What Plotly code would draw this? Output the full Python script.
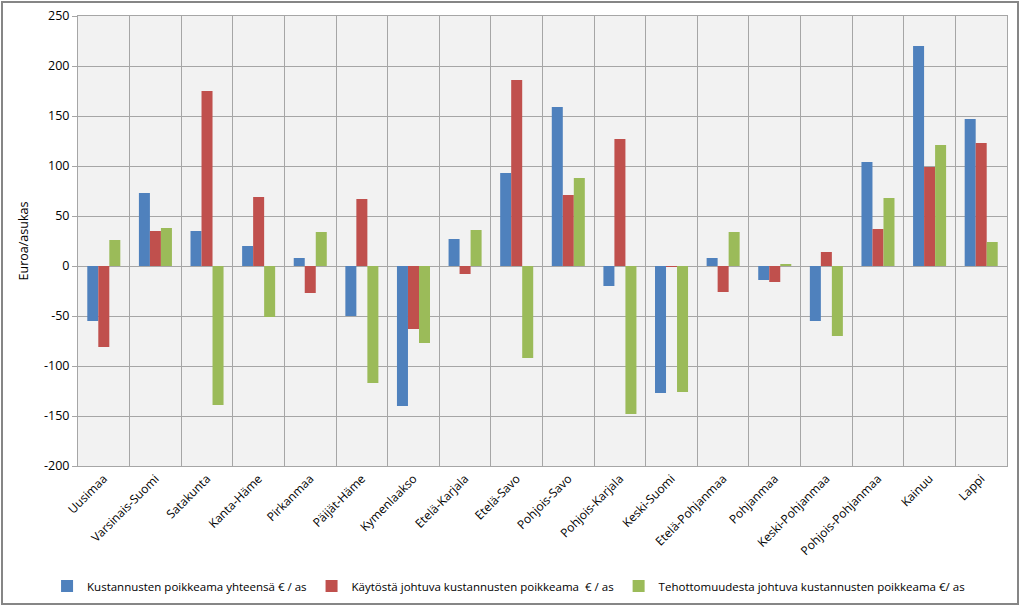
import plotly.graph_objects as go

regions = ["Uusimaa", "Varsinais-Suomi", "Satakunta", "Kanta-Häme", "Pirkanmaa", "Päijät-Häme",
           "Kymenlaakso", "Etelä-Karjala", "Etelä-Savo", "Pohjois-Savo", "Pohjois-Karjala",
           "Keski-Suomi", "Etelä-Pohjanmaa", "Pohjanmaa", "Keski-Pohjanmaa", "Pohjois-Pohjanmaa",
           "Kainuu", "Lappi"]

total = [-55, 73, 35, 20, 8, -50, -140, 27, 93, 159, -20, -127, 8, -14, -55, 104, 220, 147]
usage = [-81, 35, 175, 69, -27, 67, -63, -8, 186, 71, 127, -1, -26, -16, 14, 37, 99, 123]
ineff = [26, 38, -139, -51, 34, -117, -77, 36, -92, 88, -148, -126, 34, 2, -70, 68, 121, 24]

series_names = ["Kustannusten poikkeama yhteensä € / as",
                "Käytöstä johtuva kustannusten poikkeama  € / as",
                "Tehottomuudesta johtuva kustannusten poikkeama €/ as"]
colors = ["#4F81BD", "#C0504D", "#9BBB59"]

y_ticks = list(range(-200, 251, 50))
y_ticktext = [str(v) for v in y_ticks]

xpos = list(range(len(regions)))

fig = go.Figure()
for name, vals, col in zip(series_names, [total, usage, ineff], colors):
    fig.add_trace(go.Bar(x=xpos, y=vals, name=name, marker=dict(color=col, line=dict(width=0))))

fig.update_layout(
    width=1023, height=608,
    margin=dict(l=78, r=16, t=16, b=142, autoexpand=False),
    paper_bgcolor="white",
    plot_bgcolor="#F2F2F2",
    barmode="group",
    bargap=0.36,
    bargroupgap=0,
    font=dict(family="Open Sans, Calibri, sans-serif", size=11, color="#000000"),
    legend=dict(orientation="h", x=0.046, xanchor="left", xref="container",
                y=(608 - 586) / 608, yanchor="middle", yref="container",
                font=dict(size=11.5), traceorder="normal",
                bgcolor="rgba(0,0,0,0)"),
    showlegend=True,
)

fig.update_xaxes(
    range=[-0.5, len(regions) - 0.5],
    tickmode="array", tickvals=xpos, ticktext=regions, tickangle=-45,
    showgrid=False,
    minor=dict(tickmode="linear", tick0=0.5, dtick=1, showgrid=True, gridcolor="#A6A6A6", gridwidth=1),
    showline=True, linecolor="#A6A6A6", linewidth=1, mirror=True,
    ticks="", tickfont=dict(size=12),
    zeroline=False, automargin=False,
)
fig.update_yaxes(
    range=[-200, 250],
    tickmode="array", tickvals=y_ticks, ticktext=y_ticktext,
    showgrid=True, gridcolor="#A6A6A6", gridwidth=1,
    zeroline=True, zerolinecolor="#A6A6A6", zerolinewidth=1,
    showline=True, linecolor="#A6A6A6", linewidth=1, mirror=True,
    ticks="outside", ticklen=5, tickcolor="#A6A6A6",
    tickfont=dict(size=12.5),
    title=dict(text="Euroa/asukas", font=dict(size=12.5), standoff=12),
    automargin=False,
)

# outer chart border
pw, ph = 1023 - 78 - 16, 608 - 16 - 142
fig.add_shape(type="rect", xref="paper", yref="paper",
              x0=(2 - 78) / pw, x1=1 + (1018 - 1007) / pw,
              y0=-(604 - 466) / ph, y1=1 + (16 - 2) / ph,
              line=dict(color="#868686", width=2), fillcolor="rgba(0,0,0,0)", layer="below")

fig.write_html("out.html", config={"displayModeBar": False},
               post_script="document.body.style.margin='0px';")
